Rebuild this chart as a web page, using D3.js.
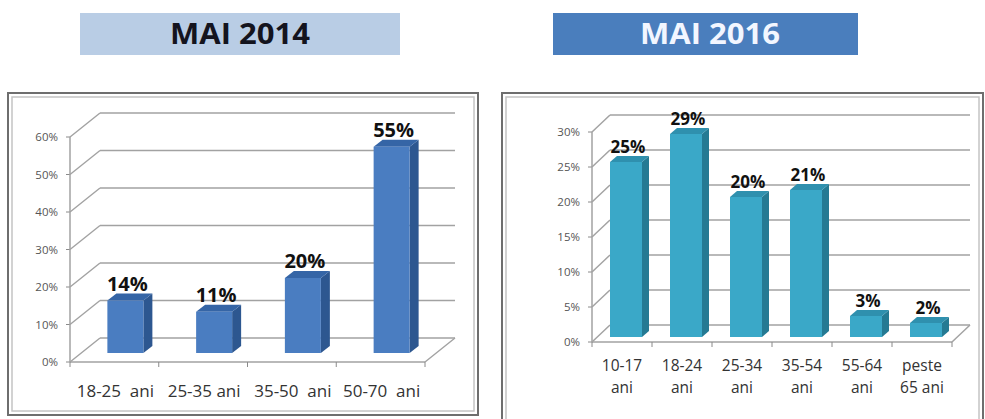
<!DOCTYPE html>
<html>
<head>
<meta charset="utf-8">
<script src="https://cdn.jsdelivr.net/npm/d3@7"></script>
<style>
  html, body { margin: 0; padding: 0; background: #fff; }
  svg { display: block; }
  text { font-family: "Open Sans", "Liberation Sans", sans-serif; }
</style>
</head>
<body>
<script>
// Age groups and shares for May 2014
const categories2014 = ["18-25  ani", "25-35 ani", "35-50  ani", "50-70  ani"];
const values2014 = [14, 11, 20, 55];
const ticks2014 = [0, 10, 20, 30, 40, 50, 60];

// Age groups and shares for May 2016 (two-line labels)
const categories2016 = [["10-17", "ani"], ["18-24", "ani"], ["25-34", "ani"], ["35-54", "ani"], ["55-64", "ani"], ["peste", "65 ani"]];
const values2016 = [25, 29, 20, 21, 3, 2];
const ticks2016 = [0, 5, 10, 15, 20, 25, 30];

const titles = ["MAI 2014", "MAI 2016"];

const W = 985, H = 419;
const svg = d3.select("body").append("svg").attr("width", W).attr("height", H);

// Title banners
const banners = [
  { x: 80, w: 320, fill: "#b9cde5", color: "#14141e", tx: 240 },
  { x: 553, w: 305, fill: "#4a7ebd", color: "#f2f6ff", tx: 710 }
];
banners.forEach((b, i) => {
  svg.append("rect").attr("x", b.x).attr("y", 13).attr("width", b.w).attr("height", 42).attr("fill", b.fill);
  svg.append("text").attr("x", b.tx).attr("y", 44)
    .attr("text-anchor", "middle").attr("font-size", 28).attr("font-weight", 700)
    .attr("textLength", 140).attr("lengthAdjust", "spacingAndGlyphs")
    .attr("fill", b.color).text(titles[i]);
});

// Double frame around a panel
function frame(x0, y0, x1, y1) {
  svg.append("rect").attr("x", x0).attr("y", y0).attr("width", x1 - x0).attr("height", y1 - y0)
    .attr("fill", "none").attr("stroke", "#6e6e6e").attr("stroke-width", 2);
  svg.append("rect").attr("x", x0 + 4).attr("y", y0 + 4).attr("width", x1 - x0 - 8).attr("height", y1 - y0 - 8)
    .attr("fill", "none").attr("stroke", "#c4c4c4").attr("stroke-width", 1.5);
}
frame(8, 93, 478, 415);
frame(502, 93, 983, 440);

function pts(a) { return a.map(p => p.join(",")).join(" "); }

// 3D-style column chart: side/back wall gridlines, floor, and prisms
function chart3d(cfg) {
  const g = svg.append("g");
  const x = d3.scaleBand().domain(cfg.categories.map((c, i) => i)).range([cfg.x0, cfg.x1]);
  const y = d3.scaleLinear().domain([0, d3.max(cfg.ticks)]).range([cfg.y0, cfg.yTop]);
  const [wdx, wdy] = cfg.wall;
  const grid = "#a2a2a2";

  // gridlines: diagonal on side wall, horizontal on back wall
  cfg.ticks.forEach(t => {
    g.append("line").attr("x1", cfg.x0).attr("y1", y(t)).attr("x2", cfg.x0 + wdx).attr("y2", y(t) + wdy)
      .attr("stroke", grid).attr("stroke-width", 1.5);
    g.append("line").attr("x1", cfg.x0 + wdx).attr("y1", y(t) + wdy).attr("x2", cfg.x1 + wdx).attr("y2", y(t) + wdy)
      .attr("stroke", grid).attr("stroke-width", 1.5);
    g.append("line").attr("x1", cfg.x0 - 4).attr("y1", y(t)).attr("x2", cfg.x0).attr("y2", y(t))
      .attr("stroke", "#8a8a8a").attr("stroke-width", 1);
    g.append("text").attr("x", cfg.labelX).attr("y", y(t) + 4).attr("text-anchor", "end")
      .attr("font-size", 11.5).attr("fill", "#555").text(t + "%");
  });
  // front axis and floor edges
  g.append("line").attr("x1", cfg.x0).attr("y1", y(0)).attr("x2", cfg.x0).attr("y2", y(d3.max(cfg.ticks)))
    .attr("stroke", grid).attr("stroke-width", 1.5);
  g.append("line").attr("x1", cfg.x0).attr("y1", y(0)).attr("x2", cfg.x1).attr("y2", y(0))
    .attr("stroke", grid).attr("stroke-width", 1.5);
  g.append("line").attr("x1", cfg.x1).attr("y1", y(0)).attr("x2", cfg.x1 + wdx).attr("y2", y(0) + wdy)
    .attr("stroke", grid).attr("stroke-width", 1.5);
  d3.range(cfg.categories.length + 1).forEach(i => {
    const xx = cfg.x0 + i * x.bandwidth();
    g.append("line").attr("x1", xx).attr("y1", y(0)).attr("x2", xx).attr("y2", y(0) + 5)
      .attr("stroke", "#8a8a8a").attr("stroke-width", 1);
  });

  // prisms
  const [ox, oy] = cfg.barOffset;
  const [ddx, ddy] = cfg.barDepth;
  const bw = cfg.barWidth;
  cfg.values.forEach((v, i) => {
    const cx = x(i) + x.bandwidth() / 2 + ox;
    const l = cx - bw / 2, r = cx + bw / 2;
    const b = y(0) + oy, t = y(v) + oy;
    g.append("polygon").attr("points", pts([[r, b], [r + ddx, b + ddy], [r + ddx, t + ddy], [r, t]])).attr("fill", cfg.side);
    g.append("polygon").attr("points", pts([[l, t], [r, t], [r + ddx, t + ddy], [l + ddx, t + ddy]])).attr("fill", cfg.top);
    g.append("rect").attr("x", l).attr("y", t).attr("width", bw).attr("height", b - t).attr("fill", cfg.front);
    g.append("text").attr("x", cx + 2).attr("y", t + ddy - cfg.valueGap).attr("text-anchor", "middle")
      .attr("font-size", cfg.valueSize).attr("font-weight", 700).attr("fill", "#111").text(v + "%");
  });

  // category labels
  cfg.categories.forEach((c, i) => {
    const lines = Array.isArray(c) ? c : [c];
    const tx = g.append("text").attr("text-anchor", "middle").attr("font-size", cfg.catSize)
      .attr("fill", "#333").style("white-space", "pre");
    lines.forEach((s, k) => {
      tx.append("tspan").attr("x", x(i) + x.bandwidth() / 2 + cfg.catShift)
        .attr("y", cfg.catY + k * cfg.catLine).text(s);
    });
  });
}

chart3d({
  categories: categories2014, values: values2014, ticks: ticks2014,
  x0: 70, x1: 425, y0: 362, yTop: 137, wall: [30, -24], labelX: 58,
  barOffset: [11, -9], barDepth: [9, -7], barWidth: 36,
  front: "#4a7dc1", side: "#2d5790", top: "#3565a6",
  valueSize: 20, valueGap: 3, catSize: 17, catY: 397, catLine: 0, catShift: 1
});

chart3d({
  categories: categories2016, values: values2016, ticks: ticks2016,
  x0: 592, x1: 952, y0: 342, yTop: 132, wall: [18, -17], labelX: 580,
  barOffset: [4, -5], barDepth: [7, -6], barWidth: 32,
  front: "#3aa8c8", side: "#257a93", top: "#2f90ae",
  valueSize: 17, valueGap: 3, catSize: 15.5, catY: 371, catLine: 22, catShift: 0
});
</script>
</body>
</html>
